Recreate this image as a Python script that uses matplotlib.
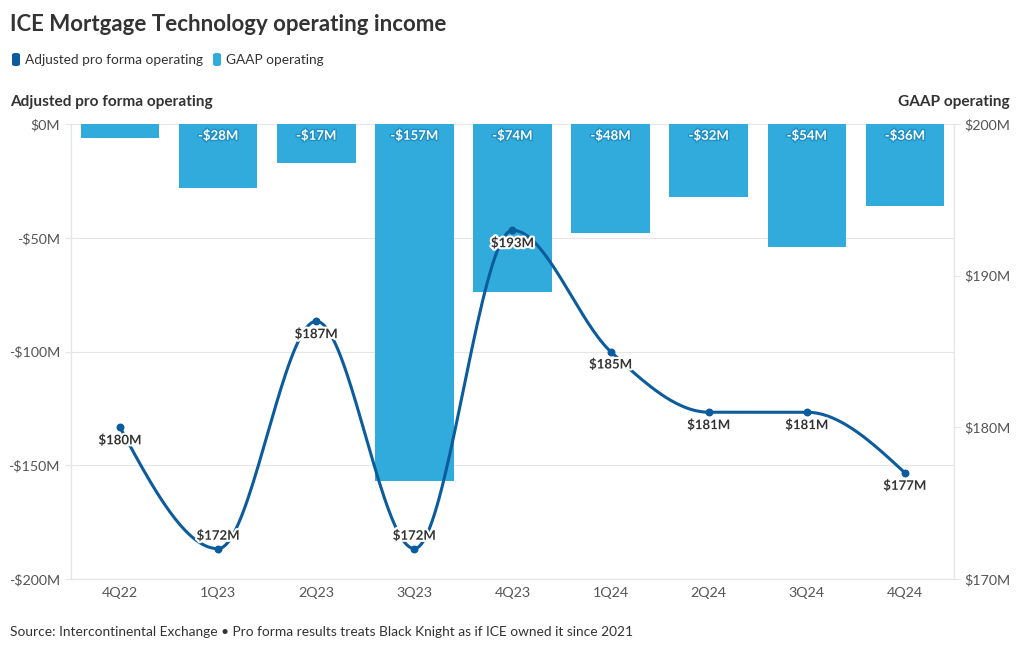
import numpy as np
import matplotlib.pyplot as plt
import matplotlib.patheffects as pe
from matplotlib.patches import FancyBboxPatch

plt.rcParams['font.family'] = ['Lato', 'DejaVu Sans']

quarters = ['4Q22', '1Q23', '2Q23', '3Q23', '4Q23', '1Q24', '2Q24', '3Q24', '4Q24']
gaap = [-6, -28, -17, -157, -74, -48, -32, -54, -36]
adjusted = [180, 172, 187, 172, 193, 185, 181, 181, 177]

left_ticks = [0, -50, -100, -150, -200]
right_ticks = [200, 190, 180, 170]

line_col = '#0b5c9c'
bar_col = '#31aadc'
text_col = '#333333'
grid_col = '#e6e6e6'


def monotone(x, y, n=40):
    # d3 curveMonotoneX style cubic hermite
    x = np.asarray(x, float)
    y = np.asarray(y, float)
    h = np.diff(x)
    s = np.diff(y) / h
    t = np.zeros(len(x))
    for i in range(1, len(x) - 1):
        p = (s[i - 1] * h[i] + s[i] * h[i - 1]) / (h[i - 1] + h[i])
        t[i] = (np.sign(s[i - 1]) + np.sign(s[i])) * min(abs(s[i - 1]), abs(s[i]), 0.5 * abs(p))
    t[0] = (3 * s[0] - t[1]) / 2
    t[-1] = (3 * s[-1] - t[-2]) / 2
    xs, ys = [], []
    for i in range(len(x) - 1):
        u = np.linspace(0, 1, n)
        h00 = 2 * u**3 - 3 * u**2 + 1
        h10 = u**3 - 2 * u**2 + u
        h01 = -2 * u**3 + 3 * u**2
        h11 = u**3 - u**2
        xs.append(x[i] + u * h[i])
        ys.append(h00 * y[i] + h10 * h[i] * t[i] + h01 * y[i + 1] + h11 * h[i] * t[i + 1])
    return np.concatenate(xs), np.concatenate(ys)


fig = plt.figure(figsize=(10.2, 6.5), dpi=100)
ax = fig.add_axes([0.0696, 0.1092, 0.8657, 0.6999])
ax2 = ax.twinx()

xpos = np.arange(len(quarters))
ax.bar(xpos, gaap, width=0.8, color=bar_col, zorder=2)
for x, v in zip(xpos, gaap):
    if v < -10:
        ax.text(x, -2.5, f'-${-v}M', ha='center', va='top', fontsize=9.5, fontweight='bold',
                color='white', zorder=3,
                path_effects=[pe.withStroke(linewidth=2, foreground='#1f8fc4')])

ax.set_xlim(-0.5, len(quarters) - 0.5)
ax.set_ylim(-200, 0)
ax.set_yticks(left_ticks)
ax.set_yticklabels([f'-${-v}M' if v < 0 else f'${v}M' for v in left_ticks])
ax.set_xticks(xpos)
ax.set_xticklabels(quarters)
ax.grid(axis='y', color=grid_col, linewidth=0.8, zorder=0)
ax.set_axisbelow(True)

xs, ys = monotone(xpos, adjusted)
ax2.plot(xs, ys, color=line_col, linewidth=2.2, zorder=4)
ax2.scatter(xpos, adjusted, color=line_col, s=22, zorder=5)
for i, (x, v) in enumerate(zip(xpos, adjusted)):
    # labels sit below the point, except at local minima
    is_min = 0 < i < len(adjusted) - 1 and v < adjusted[i - 1] and v < adjusted[i + 1]
    ax2.annotate(f'${v}M', (x, v), xytext=(0, 5 if is_min else -5), textcoords='offset points',
                 ha='center', va='bottom' if is_min else 'top', fontsize=9.5, fontweight='bold',
                 color=text_col, zorder=6,
                 path_effects=[pe.withStroke(linewidth=3, foreground='white')])
ax2.set_ylim(170, 200)
ax2.set_yticks(right_ticks)
ax2.set_yticklabels([f'${v}M' for v in right_ticks])

for a in (ax, ax2):
    for side in ('top', 'bottom', 'left', 'right'):
        a.spines[side].set_color(grid_col)
        a.spines[side].set_linewidth(0.8)
    a.spines['top'].set_visible(False)
    a.tick_params(colors='#555555', labelsize=10.3, length=4, width=0.8)
    a.tick_params(axis='y', color=grid_col)
    a.tick_params(axis='x', length=0, pad=6)
ax.tick_params(axis='y', pad=4)

fig.text(0.0098, 0.963, 'ICE Mortgage Technology operating income', fontsize=16,
         fontweight='bold', color=text_col, va='center')

# legend
items = [('Adjusted pro forma operating', line_col), ('GAAP operating', bar_col)]
lx = 12
for label, col in items:
    fig.patches.append(FancyBboxPatch((lx / 1020, (650 - 66) / 650), 8 / 1020, 13 / 650,
                                      boxstyle='round,pad=0,rounding_size=0.003',
                                      transform=fig.transFigure, facecolor=col,
                                      edgecolor='none'))
    t = fig.text((lx + 13) / 1020, (650 - 60) / 650, label, fontsize=9.8, color=text_col,
                 va='center')
    fig.canvas.draw()
    bb = t.get_window_extent()
    lx = bb.x1 + 10

fig.text(0.0098, (650 - 102) / 650, 'Adjusted pro forma operating', fontsize=11.1,
         fontweight='bold', color=text_col, va='center')
fig.text(0.9902, (650 - 102) / 650, 'GAAP operating', fontsize=11.1,
         fontweight='bold', color=text_col, va='center', ha='right')
fig.text(0.0098, (650 - 632) / 650,
         'Source: Intercontinental Exchange \u2022 Pro forma results treats Black Knight as if ICE owned it since 2021',
         fontsize=9.9, color=text_col, va='center')

fig.savefig('out.png', dpi=100)
